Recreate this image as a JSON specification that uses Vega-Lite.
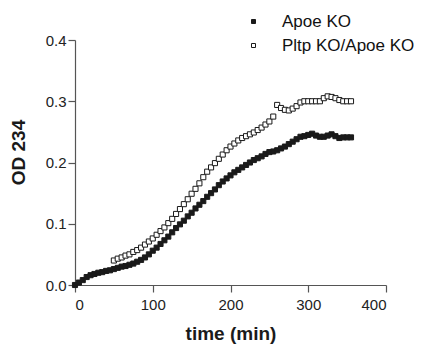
{
  "$schema": "https://vega.github.io/schema/vega-lite/v6.json",
  "width": 311,
  "height": 245,
  "autosize": {"type": "none"},
  "padding": {"left": 75, "top": 40, "right": 38, "bottom": 60},
  "background": "white",
  "config": {
    "view": {"stroke": null},
    "font": "Liberation Sans"
  },
  "datasets": {
    "apoe": [
      {"t":0,"v":0.000},{"t":5,"v":0.004},{"t":10,"v":0.008},{"t":15,"v":0.013},{"t":20,"v":0.016},{"t":25,"v":0.018},{"t":30,"v":0.020},{"t":35,"v":0.021},{"t":40,"v":0.023},{"t":45,"v":0.024},{"t":50,"v":0.026},{"t":55,"v":0.028},{"t":60,"v":0.030},{"t":65,"v":0.031},{"t":70,"v":0.033},{"t":75,"v":0.035},{"t":80,"v":0.038},{"t":85,"v":0.041},{"t":90,"v":0.045},{"t":95,"v":0.050},{"t":100,"v":0.056},{"t":105,"v":0.061},{"t":110,"v":0.067},{"t":115,"v":0.073},{"t":120,"v":0.079},{"t":125,"v":0.086},{"t":130,"v":0.093},{"t":135,"v":0.099},{"t":140,"v":0.105},{"t":145,"v":0.112},{"t":150,"v":0.118},{"t":155,"v":0.125},{"t":160,"v":0.131},{"t":165,"v":0.137},{"t":170,"v":0.144},{"t":175,"v":0.150},{"t":180,"v":0.156},{"t":185,"v":0.163},{"t":190,"v":0.169},{"t":195,"v":0.174},{"t":200,"v":0.179},{"t":205,"v":0.184},{"t":210,"v":0.188},{"t":215,"v":0.192},{"t":220,"v":0.196},{"t":225,"v":0.200},{"t":230,"v":0.204},{"t":235,"v":0.207},{"t":240,"v":0.210},{"t":245,"v":0.214},{"t":250,"v":0.217},{"t":255,"v":0.218},{"t":260,"v":0.220},{"t":265,"v":0.223},{"t":270,"v":0.226},{"t":275,"v":0.230},{"t":280,"v":0.234},{"t":285,"v":0.238},{"t":290,"v":0.242},{"t":295,"v":0.243},{"t":300,"v":0.245},{"t":305,"v":0.247},{"t":310,"v":0.244},{"t":315,"v":0.242},{"t":320,"v":0.242},{"t":325,"v":0.244},{"t":330,"v":0.246},{"t":335,"v":0.243},{"t":340,"v":0.240},{"t":345,"v":0.241},{"t":350,"v":0.241},{"t":355,"v":0.241}
    ],
    "pltp": [
      {"t":50,"v":0.040},{"t":55,"v":0.043},{"t":60,"v":0.045},{"t":65,"v":0.048},{"t":70,"v":0.050},{"t":75,"v":0.054},{"t":80,"v":0.057},{"t":85,"v":0.061},{"t":90,"v":0.066},{"t":95,"v":0.071},{"t":100,"v":0.076},{"t":105,"v":0.082},{"t":110,"v":0.088},{"t":115,"v":0.094},{"t":120,"v":0.101},{"t":125,"v":0.108},{"t":130,"v":0.116},{"t":135,"v":0.124},{"t":140,"v":0.132},{"t":145,"v":0.140},{"t":150,"v":0.149},{"t":155,"v":0.157},{"t":160,"v":0.166},{"t":165,"v":0.176},{"t":170,"v":0.185},{"t":175,"v":0.192},{"t":180,"v":0.199},{"t":185,"v":0.206},{"t":190,"v":0.213},{"t":195,"v":0.220},{"t":200,"v":0.226},{"t":205,"v":0.231},{"t":210,"v":0.236},{"t":215,"v":0.240},{"t":220,"v":0.243},{"t":225,"v":0.246},{"t":230,"v":0.249},{"t":235,"v":0.253},{"t":240,"v":0.257},{"t":245,"v":0.262},{"t":250,"v":0.267},{"t":255,"v":0.275},{"t":260,"v":0.294},{"t":265,"v":0.289},{"t":270,"v":0.286},{"t":275,"v":0.285},{"t":280,"v":0.288},{"t":285,"v":0.292},{"t":290,"v":0.298},{"t":295,"v":0.300},{"t":300,"v":0.300},{"t":305,"v":0.300},{"t":310,"v":0.300},{"t":315,"v":0.300},{"t":320,"v":0.305},{"t":325,"v":0.308},{"t":330,"v":0.307},{"t":335,"v":0.305},{"t":340,"v":0.302},{"t":345,"v":0.300},{"t":350,"v":0.300},{"t":355,"v":0.300}
    ]
  },
  "layer": [
    {
      "data": {"name": "pltp"},
      "transform": [{"calculate": "'Pltp KO/Apoe KO'", "as": "series"}],
      "mark": {"type": "point", "shape": "square", "filled": true, "stroke": "#1a1a1a", "strokeWidth": 1, "size": 26, "opacity": 1},
      "encoding": {
        "x": {"field": "t", "type": "quantitative"},
        "y": {"field": "v", "type": "quantitative"},
        "fill": {"field": "series", "type": "nominal"}
      }
    },
    {
      "data": {"name": "apoe"},
      "transform": [{"calculate": "'Apoe KO'", "as": "series"}],
      "mark": {"type": "point", "shape": "square", "filled": true, "stroke": "#1a1a1a", "strokeWidth": 1, "size": 26, "opacity": 1},
      "encoding": {
        "x": {"field": "t", "type": "quantitative"},
        "y": {"field": "v", "type": "quantitative"},
        "fill": {"field": "series", "type": "nominal"}
      }
    }
  ],
  "encoding": {
    "x": {
      "field": "t", "type": "quantitative",
      "scale": {"domain": [0, 400], "nice": false, "zero": true},
      "axis": {
        "values": [0, 100, 200, 300, 400], "grid": false,
        "title": "time (min)", "titleFont": "Liberation Sans", "titleFontSize": 19, "titleFontWeight": "bold", "titleColor": "#1a1a1a", "titlePadding": 12,
        "labelFont": "Liberation Sans", "labelFontSize": 15, "labelColor": "#222", "labelPadding": 5,
        "domainColor": "#555", "tickColor": "#555", "tickSize": 7, "domainWidth": 1.2, "tickWidth": 1.2
      }
    },
    "y": {
      "field": "v", "type": "quantitative",
      "scale": {"domain": [0, 0.4], "nice": false},
      "axis": {
        "values": [0, 0.1, 0.2, 0.3, 0.4], "format": ".1f", "grid": false,
        "title": "OD 234", "titleFont": "Liberation Sans", "titleFontSize": 19, "titleFontWeight": "bold", "titleColor": "#1a1a1a", "titlePadding": 17, "titleY": 112,
        "labelFont": "Liberation Sans", "labelFontSize": 15, "labelColor": "#222", "labelPadding": 2,
        "domainColor": "#555", "tickColor": "#555", "tickSize": 7, "domainWidth": 1.2, "tickWidth": 1.2
      }
    },
    "fill": {
      "field": "series", "type": "nominal",
      "scale": {"domain": ["Apoe KO", "Pltp KO/Apoe KO"], "range": ["#1a1a1a", "#ffffff"]},
      "legend": {
        "title": null, "orient": "none", "legendX": 170, "legendY": -27,
        "symbolType": "square", "symbolSize": 16, "symbolStrokeColor": "#1a1a1a", "symbolStrokeWidth": 1,
        "labelFont": "Liberation Sans", "labelFontSize": 17, "labelColor": "#111", "labelOffset": 20,
        "rowPadding": 6, "padding": 0
      }
    }
  }
}
